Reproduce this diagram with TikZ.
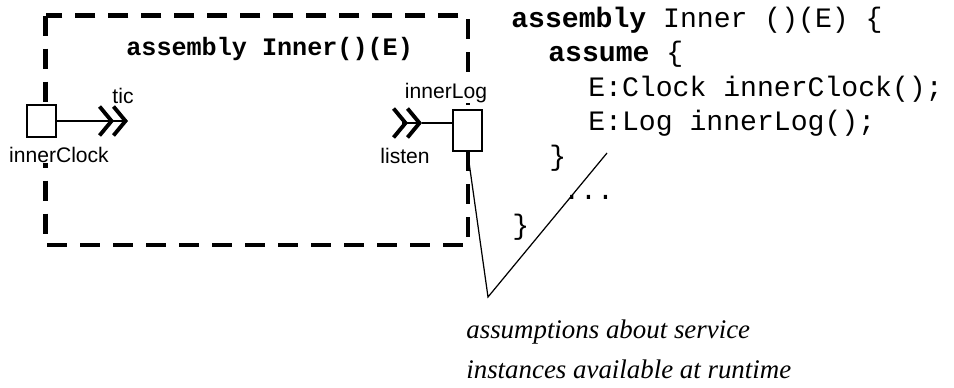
\documentclass[tikz,border=0pt]{standalone}
\usepackage{fontspec}
\setmainfont{Liberation Serif}
\setsansfont{Liberation Sans}
\setmonofont{Liberation Mono}
\usepackage{tikz}
\usetikzlibrary{positioning,arrows.meta}

\begin{document}
\begin{tikzpicture}[x=0.2mm, y=-0.2mm,
  inst/.style={draw, fill=white, line width=0.6pt, inner sep=0pt, minimum width=5.8mm},
  lbl/.style={font=\sffamily\fontsize{12}{14}\selectfont, fill=white, inner sep=0.5pt},
  code/.style={anchor=base west, inner sep=0pt, font=\ttfamily\fontsize{16}{19}\selectfont},
  port/.style={line width=0.6pt, -{Straight Barb[length=2.4mm, width=5.8mm, line width=2.2pt, sep=-0.5mm] Straight Barb[length=2.4mm, width=5.8mm, line width=2.2pt]}}]
  \useasboundingbox (0,0) rectangle (954,387);
  \draw[line width=2.8pt, dash pattern=on 4mm off 2.6mm] (45.5,15.5) rectangle (468,245);
  \node[anchor=base west, inner sep=0pt, font=\ttfamily\bfseries\fontsize{14.3}{17}\selectfont] (title) at (126,55) {assembly Inner()(E)};
  \node[inst, minimum height=6.4mm] (clockbox) at (41.5,121) {};
  \node[inst, minimum height=8.2mm] (logbox) at (467.5,130.5) {};
  \coordinate (tic) at (128,121);
  \coordinate (listen) at (422,123);
  \draw[port] (clockbox.east) -- (tic);
  \draw[port] ([xshift=-4mm]listen) -- (listen);
  \draw[line width=0.6pt] (listen) -- (listen -| logbox.west);
  \node[lbl, anchor=base] (ticlbl) at (123,103) {tic};
  \node[lbl, anchor=base] (clocklbl) at (59,162) {innerClock};
  \node[lbl, anchor=base] (loglbl) at (446,98) {innerLog};
  \node[lbl, anchor=base] (listenlbl) at (405,163) {listen};
  \node[code] (l1) at (511,27) {\textbf{assembly} Inner ()(E) \{};
  \node[code] (l2) at (548,61.5) {\textbf{assume} \{};
  \node[code] (l3) at (588,96) {E:Clock innerClock();};
  \node[code] (l4) at (588,130.5) {E:Log innerLog();};
  \node[code] (l5) at (549,165) {\}};
  \node[code] (l6) at (563,199.5) {...};
  \node[code] (l7) at (512,234) {\}};
  \coordinate (vtip) at (488,297);
  \coordinate (assumeend) at (607,153);
  \draw[line width=0.7pt] (logbox.south) -- (vtip) -- (assumeend);
  \node[anchor=base west, align=left, inner sep=0pt, font=\itshape\fontsize{15.3}{22.5}\selectfont] (note) at (466,378) {assumptions about service\\instances available at runtime};
\end{tikzpicture}
\end{document}
